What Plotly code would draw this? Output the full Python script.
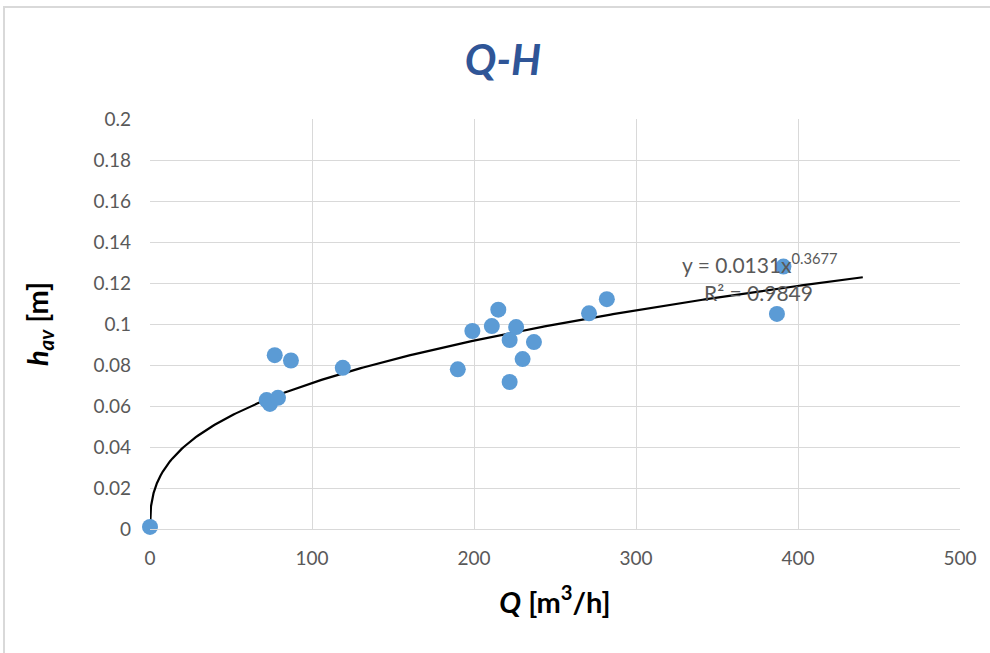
import numpy as np
import plotly.graph_objects as go

# Data
q_values = [0, 77, 87, 119, 72, 74, 79, 190, 199, 211, 215, 226, 222, 222, 230, 237, 271, 282, 391, 387]
h_values = [0.001, 0.0848, 0.0822, 0.0786, 0.0629, 0.0610, 0.0640, 0.0779, 0.0966, 0.0990, 0.1070, 0.0985, 0.0922, 0.0717, 0.0829, 0.0912, 0.1052, 0.1121, 0.1280, 0.1049]

# Trendline (power) coefficients as shown in the chart
trend_a = 0.0131
trend_b = 0.3677
trend_r2 = 0.9849
trend_x_max = 440

x_ticks = [0, 100, 200, 300, 400, 500]
y_ticks = [0, 0.02, 0.04, 0.06, 0.08, 0.1, 0.12, 0.14, 0.16, 0.18, 0.2]
y_tick_text = ["0", "0.02", "0.04", "0.06", "0.08", "0.1", "0.12", "0.14", "0.16", "0.18", "0.2"]

tx = np.concatenate([np.linspace(0, 5, 60), np.linspace(5, trend_x_max, 300)])
ty = trend_a * np.power(tx, trend_b)

FONT = "Lato"
GRAY = "#595959"

fig = go.Figure()
fig.add_trace(go.Scatter(x=tx, y=ty, mode="lines",
                         line=dict(color="black", width=2.2), hoverinfo="skip", showlegend=False))
fig.add_trace(go.Scatter(x=q_values, y=h_values, mode="markers", cliponaxis=False,
                         marker=dict(color="#5B9BD5", size=16), showlegend=False))

W, H = 990, 653
L, R, T, B = 150, 30, 119, 124
pw, ph = W - L - R, H - T - B

def px_to_paper_x(p):
    return (p - L) / pw

def px_to_paper_y(p):
    return (H - B - p) / ph

fig.add_shape(type="rect", xref="paper", yref="paper",
              x0=px_to_paper_x(4), x1=px_to_paper_x(1000),
              y0=px_to_paper_y(7), y1=px_to_paper_y(665),
              line=dict(color="#d9d9d9", width=2), layer="below")

fig.add_annotation(x=px_to_paper_x(760), y=px_to_paper_y(263), xref="paper", yref="paper",
                   xanchor="center", yanchor="middle",
                   text=f"y = {trend_a}x<sup>{trend_b}</sup>", showarrow=False,
                   font=dict(family=FONT, size=21, color=GRAY))
fig.add_annotation(x=px_to_paper_x(758), y=px_to_paper_y(292), xref="paper", yref="paper",
                   xanchor="center", yanchor="middle",
                   text=f"R² = {trend_r2}", showarrow=False,
                   font=dict(family=FONT, size=21, color=GRAY))

fig.update_layout(
    width=W, height=H,
    margin=dict(l=L, r=R, t=T, b=B),
    paper_bgcolor="white", plot_bgcolor="white",
    title=dict(text="<b><i>Q-H</i></b>", x=(503) / W, xanchor="center",
               y=1 - 60 / H, yanchor="middle",
               font=dict(family=FONT, size=42, color="#2F5597")),
    font=dict(family=FONT, size=16, color=GRAY),
    xaxis=dict(range=[0, 500], tickvals=x_ticks, showgrid=True, gridcolor="#d9d9d9",
               gridwidth=1, zeroline=False, showline=True, linecolor="#d9d9d9",
               ticks="", tickfont=dict(size=19, color=GRAY), ticklabelstandoff=12,
               title=dict(text="<b><i>Q</i> [m<sup>3</sup>/h]</b>", standoff=24,
                          font=dict(family=FONT, size=29, color="black"))),
    yaxis=dict(range=[0, 0.2], tickvals=y_ticks, ticktext=y_tick_text, showgrid=True,
               gridcolor="#d9d9d9", gridwidth=1, zeroline=False, showline=False,
               ticks="", tickfont=dict(size=19, color=GRAY), ticklabelstandoff=18,
               title=dict(text="<b><i>h<sub>av</sub></i> [m]</b>", standoff=36,
                          font=dict(family=FONT, size=29, color="black"))),
)

fig.write_html("out.html")
